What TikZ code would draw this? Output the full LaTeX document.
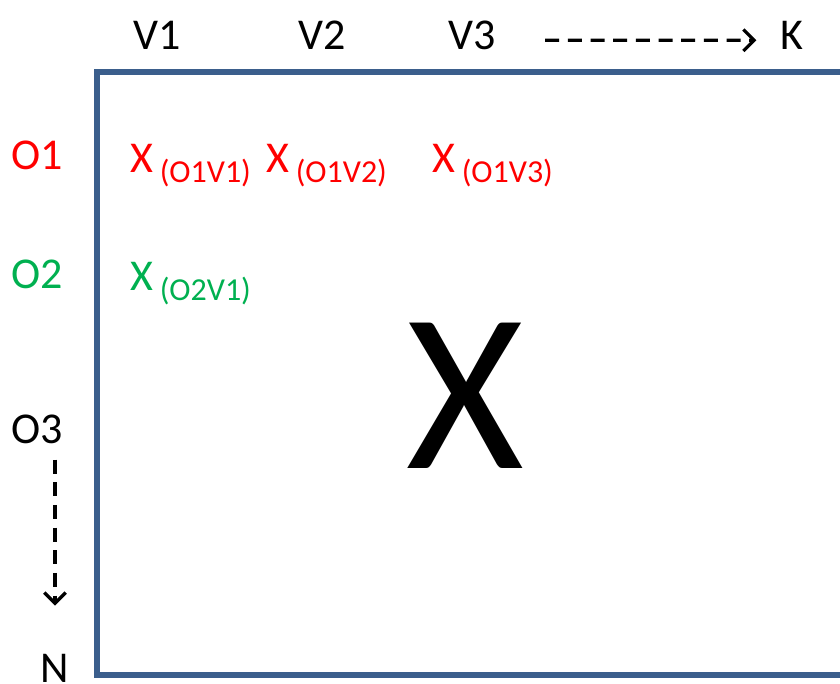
\documentclass[tikz,border=0pt]{standalone}
\usepackage{fontspec}
\setmainfont{Carlito}
\usepackage{xcolor}
\usetikzlibrary{positioning,arrows.meta}
\definecolor{mxframe}{HTML}{3B5E8C}
\definecolor{mxred}{HTML}{FF0000}
\definecolor{mxgreen}{HTML}{00B050}
\newcommand{\xcell}[1]{X\hspace{5pt}\raisebox{-8pt}{\fontsize{24}{24}\selectfont(#1)}}

\begin{document}
\begin{tikzpicture}[x=0.75pt,y=-0.75pt,
  lab/.style={font=\fontsize{33}{33}\selectfont,inner sep=0pt,anchor=base},
  cell/.style={font=\fontsize{33}{33}\selectfont,inner sep=0pt,anchor=base west},
  dasharrow/.style={line width=2.4pt,dash pattern=on 10.5pt off 6.5pt,-{Straight Barb[length=8pt,width=16pt,line width=2.4pt]}}]
  \useasboundingbox (0,0) rectangle (840,683);
  % matrix frame, open on the right
  \draw[mxframe,line width=3.8pt] (845,72) -- (97,72) -- (97,675) -- (845,675);
  % column and row labels
  \foreach \x/\lab in {157/V1,322/V2,472/V3}{
    \node[lab] (\lab) at (\x,49) {\lab};
  }
  \node[lab] (k) at (792,49) {K};
  \node[lab,mxred] (o1) at (37,169) {O1};
  \node[lab,mxgreen] (o2) at (37,288) {O2};
  \node[lab] (o3) at (37,443) {O3};
  \node[lab] (n) at (55,682) {N};
  \draw[dasharrow,shorten <=37pt,shorten >=18pt] ([yshift=-4pt]V3.east) -- ([yshift=-4pt]k.west);
  \draw[dasharrow,shorten <=12pt,shorten >=36pt] (o3.south -| n) -- (n.north);
  % entries
  \foreach \x/\y/\sub/\col in {130/172/O1V1/mxred,266/172/O1V2/mxred,432/172/O1V3/mxred,130/290/O2V1/mxgreen}{
    \node[cell,\col] (x\sub) at (\x,\y) {\xcell{\sub}};
  }
  \node[font=\fontsize{170}{170}\selectfont,inner sep=0pt,anchor=base] (bigx) at (465,468) {X};
\end{tikzpicture}
\end{document}
